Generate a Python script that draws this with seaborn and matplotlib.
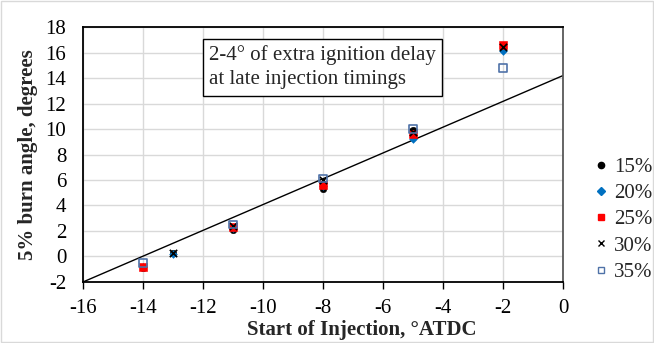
import matplotlib
matplotlib.use("Agg")
import matplotlib.pyplot as plt
import seaborn as sns
import pandas as pd
from matplotlib.lines import Line2D
from matplotlib.patches import Rectangle

sns.set_theme(style="white")
plt.rcParams['font.family'] = ['Liberation Serif', 'DejaVu Serif']

# Data
series = ["15%", "20%", "25%", "30%", "35%"]
soi_15 = [-14, -13, -11, -8, -5, -2]
burn_15 = [-0.9, 0.3, 2.1, 5.3, 9.9, 16.3]
soi_20 = [-14, -13, -11, -8, -5, -2]
burn_20 = [-0.8, 0.2, 2.2, 5.5, 9.2, 16.1]
soi_25 = [-14, -11, -8, -5, -2]
burn_25 = [-0.8, 2.3, 5.6, 9.6, 16.6]
soi_30 = [-13, -11, -8, -5, -2]
burn_30 = [0.25, 2.4, 6.0, 9.8, 16.4]
soi_35 = [-14, -11, -8, -5, -2]
burn_35 = [-0.5, 2.5, 6.1, 10.0, 14.8]
line_x = [-16, 0]
line_y = [-2, 14.2]

xticks = [-16, -14, -12, -10, -8, -6, -4, -2, 0]
yticks = [-2, 0, 2, 4, 6, 8, 10, 12, 14, 16, 18]

FS = 15

fig = plt.figure(figsize=(6.54, 3.43), dpi=100)
ax = fig.add_axes([0.127, 0.178, 0.734, 0.743])

sns.lineplot(x=line_x, y=line_y, ax=ax, color="black", linewidth=1.0, zorder=2)

styles = {
    "15%": dict(marker="o", color="black", edgecolor="black", s=22),
    "20%": dict(marker="D", color="#0070C0", edgecolor="#0070C0", s=16),
    "25%": dict(marker="s", color="#FF0000", edgecolor="#FF0000", s=28),
    "30%": dict(marker="x", color="black", s=28, linewidth=1.2),
    "35%": dict(marker="s", facecolor="none", edgecolor="#4F72A8", s=28, linewidth=1.2),
}
data = {
    "15%": (soi_15, burn_15),
    "20%": (soi_20, burn_20),
    "25%": (soi_25, burn_25),
    "30%": (soi_30, burn_30),
    "35%": (soi_35, burn_35),
}
for name in series:
    xs, ys = data[name]
    df = pd.DataFrame({"soi": xs, "burn": ys})
    sns.scatterplot(data=df, x="soi", y="burn", ax=ax, zorder=3, **styles[name])

ax.set_xlim(-16, 0)
ax.set_ylim(-2, 18)
ax.set_xticks(xticks)
ax.set_yticks(yticks)
ax.set_xticklabels([str(v) for v in xticks])
ax.set_yticklabels([str(v) for v in yticks])
ax.grid(True, color="#d9d9d9", linewidth=1.0)
ax.set_axisbelow(True)
for sp in ax.spines.values():
    sp.set_visible(True)
    sp.set_color("black")
    sp.set_linewidth(1.3)
ax.spines["right"].set_color("#595959")
ax.tick_params(axis="x", which="both", bottom=True, length=5, width=1.0,
               color="black", labelsize=FS, pad=7, labelcolor="black")
ax.tick_params(axis="y", left=False, labelsize=FS, pad=6, labelcolor="black")
ax.set_xlabel("Start of Injection, °ATDC", fontsize=FS, fontweight="bold")
ax.set_ylabel("5% burn angle, degrees", fontsize=FS, fontweight="bold")
ax.xaxis.set_label_coords(0.58, -0.15)
ax.yaxis.set_label_coords(-0.094, 0.5)

ax.text(-11.8, 14.85, "2-4° of extra ignition delay\nat late injection timings",
        fontsize=FS, va="center", ha="left", linespacing=1.38,
        bbox=dict(boxstyle="square,pad=0.3", facecolor="white", edgecolor="black", linewidth=1.0),
        zorder=5)

handles = [
    Line2D([], [], marker="o", color="black", linestyle="none", markersize=4.5),
    Line2D([], [], marker="D", color="#0070C0", linestyle="none", markersize=3.8),
    Line2D([], [], marker="s", color="#FF0000", linestyle="none", markersize=5),
    Line2D([], [], marker="x", color="black", linestyle="none", markersize=5),
    Line2D([], [], marker="s", markerfacecolor="none", markeredgecolor="#4F72A8",
           linestyle="none", markersize=5),
]
fig.legend(handles, series, loc="center left", bbox_to_anchor=(0.893, 0.36),
           frameon=False, fontsize=FS, handletextpad=0.25, labelspacing=0.32,
           handlelength=0.8, borderaxespad=0)

fig.patches.append(Rectangle((0.002, 0.003), 0.996, 0.994, transform=fig.transFigure,
                             fill=False, edgecolor="#d9d9d9", linewidth=1.0))

fig.savefig("out.png", dpi=100)
